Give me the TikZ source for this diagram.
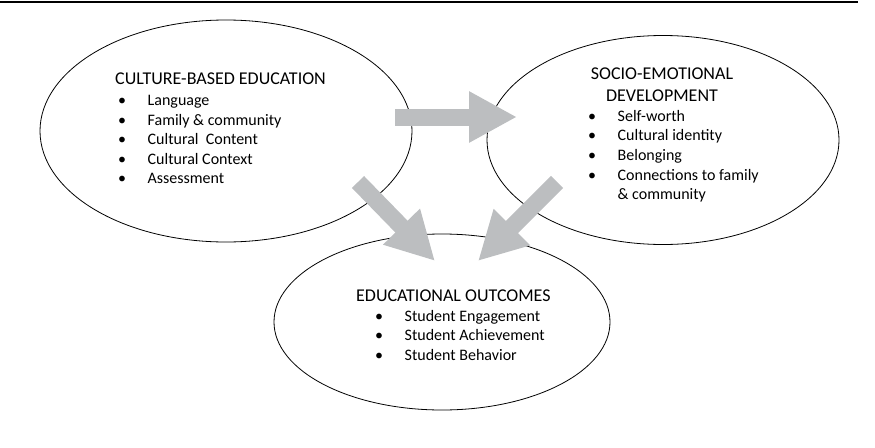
\documentclass[tikz,border=0pt]{standalone}
\usepackage{fontspec}
\setmainfont{Carlito}
\usetikzlibrary{shapes.geometric,arrows.meta}
\definecolor{arrowgray}{RGB}{188,190,192}
\tikzset{
  bubble/.style={ellipse, draw, line width=0.8pt, inner sep=0pt},
  heading/.style={font=\fontsize{18}{22}\selectfont, inner sep=0pt},
  items/.style={font=\fontsize{16}{19.6}\selectfont, inner sep=0pt, align=left, anchor=north west},
  bigarrow/.style={draw=arrowgray, line width=17pt, -{Triangle[length=48pt,width=48pt]}}
}
\newcommand{\itm}{\makebox[29.5pt][l]{\textbullet}}

\begin{document}
\begin{tikzpicture}[x=1pt,y=-1pt]
  \useasboundingbox (0,0) rectangle (875,447);
  \draw[line width=1.5pt] (0,2) -- (858,2);

  \node[bubble, minimum width=372pt, minimum height=222pt] (cbe) at (226,131) {};
  \node[bubble, minimum width=352pt, minimum height=209pt] (sed) at (663,140) {};
  \node[bubble, minimum width=336pt, minimum height=176pt] (eo) at (442,322) {};

  \node[heading, anchor=north west] (cbe-title) at (115,73) {CULTURE-BASED EDUCATION};
  \node[items] (cbe-list) at (118,95) {\itm Language\\ \itm Family \& community\\ \itm Cultural\ \ Content\\ \itm Cultural Context\\ \itm Assessment};

  \node[heading, anchor=north, align=center] (sed-title) at (662,68) {SOCIO-EMOTIONAL\\DEVELOPMENT};
  \node[items] (sed-list) at (588,110) {\itm Self-worth\\ \itm Cultural identity\\ \itm Belonging\\ \itm Connections to family\\ \hspace*{29.5pt}\& community};

  \node[heading, anchor=north west] (eo-title) at (356,290) {EDUCATIONAL OUTCOMES};
  \node[items] (eo-list) at (375,310) {\itm Student Engagement\\ \itm Student Achievement\\ \itm Student Behavior};

  \coordinate (cbe-out) at (395,117);
  \coordinate (sed-in) at (517,117);
  \coordinate (cbe-down) at (358,182);
  \coordinate (sed-down) at (557,182);
  \coordinate (eo-in1) at (435,261);
  \coordinate (eo-in2) at (478,261);

  \draw[bigarrow] (cbe-out) -- (sed-in);
  \draw[bigarrow] (cbe-down) -- (eo-in1);
  \draw[bigarrow] (sed-down) -- (eo-in2);
\end{tikzpicture}
\end{document}
